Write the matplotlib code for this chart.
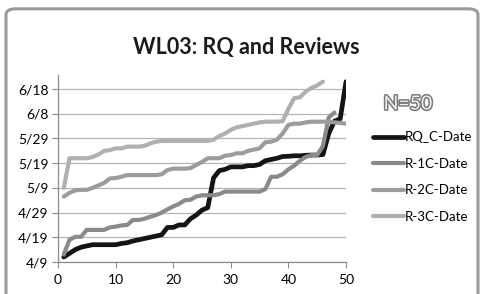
import matplotlib
matplotlib.use("Agg")
import matplotlib.pyplot as plt
import matplotlib.patheffects as pe
from matplotlib.patches import FancyBboxPatch

# days counted from 4/9
y_ticks = [0, 10, 20, 30, 40, 50, 60, 70]
y_labels = ["4/9", "4/19", "4/29", "5/9", "5/19", "5/29", "6/8", "6/18"]
x_ticks = [0, 10, 20, 30, 40, 50]

rq_c = [2, 3.5, 5, 6, 6.5, 7, 7, 7, 7, 7,
        7.5, 7.8, 8.5, 9, 9.5, 10, 10.5, 11, 14, 14,
        15, 15, 17.5, 19, 21, 22, 34, 37, 37.5, 38.5,
        38.5, 38.5, 39, 39, 39.5, 41, 41.5, 42, 42.7, 42.8,
        43, 43, 43.2, 43.3, 43.3, 43.5, 52, 57, 58, 73]
r1_c = [3, 9, 10.2, 10.2, 13, 13, 13, 13, 14, 14.3,
        14.8, 15, 17, 17, 17.5, 18.3, 19, 20, 21.3, 22.5,
        23.5, 25, 25.2, 26.5, 27, 27, 27, 27.5, 28.5, 28.5,
        28.5, 28.5, 28.5, 28.5, 28.5, 29.5, 34.5, 34.5, 35.5, 37.5,
        39, 41, 42.5, 43.3, 43.3, 47, 58.5, 60.5]
r2_c = [26.5, 28, 29, 29.2, 29.2, 30, 31, 32, 33.8, 34,
        34.5, 35.2, 35.2, 35.2, 35.2, 35.2, 35.2, 35.5, 37.2, 37.8,
        37.8, 37.8, 38, 39.3, 40.5, 42, 42, 42, 43, 43.3,
        44, 44, 45, 45.5, 46, 48.5, 48.7, 49.5, 52, 55.5,
        56, 56, 56.5, 56.8, 56.8, 56.8, 56.8, 56.5, 56.3, 56]
r3_c = [30, 42, 42, 42, 42, 42.5, 43.5, 45, 45.3, 46,
        46, 46.7, 46.7, 46.7, 47, 48, 48.7, 49, 49, 49,
        49, 49, 49, 49, 49, 49, 49.5, 51, 52, 53.5,
        54.5, 55, 55.5, 56, 56.5, 56.8, 56.8, 56.8, 57, 62,
        66.3, 66.7, 69, 70.5, 71.5, 73]

series = [
    ("RQ_C-Date", rq_c, "#141414", 3.4),
    ("R-1C-Date", r1_c, "#8a8a8a", 3.0),
    ("R-2C-Date", r2_c, "#9c9c9c", 3.0),
    ("R-3C-Date", r3_c, "#b0b0b0", 3.0),
]

plt.rcParams["font.family"] = ["Lato", "DejaVu Sans"]

fig = plt.figure(figsize=(4.82, 2.94), dpi=100)

# chart frame
frame = FancyBboxPatch((6 / 482, -0.1), 472 / 482, 1.07,
                       boxstyle="round,pad=0,rounding_size=0.02",
                       transform=fig.transFigure, fc="white", ec="#9a9a9a",
                       lw=2.2, zorder=-5)
fig.patches.append(frame)

ax = fig.add_axes([58 / 482, 32 / 294, 288 / 482, 187 / 294])
ax.set_facecolor("none")

for label, vals, color, lw in series:
    ax.plot(range(1, len(vals) + 1), vals, color=color, lw=lw, label=label,
            solid_capstyle="round", solid_joinstyle="round", zorder=3)

ax.set_xlim(0, 50)
ax.set_ylim(0, 75.7)
ax.set_xticks(x_ticks)
ax.set_yticks(y_ticks)
ax.set_yticklabels(y_labels)
ax.grid(axis="y", color="#b4b4b4", lw=0.9, zorder=1)
ax.set_axisbelow(True)
for s in ["top", "right"]:
    ax.spines[s].set_visible(False)
for s in ["left", "bottom"]:
    ax.spines[s].set_color("#8c8c8c")
    ax.spines[s].set_linewidth(0.9)
ax.tick_params(axis="y", direction="out", length=4, color="#8c8c8c",
               labelsize=10, pad=3)
ax.tick_params(axis="x", direction="out", length=4, color="#8c8c8c",
               labelsize=10, pad=5)

fig.text(246 / 482, 1 - 47 / 294, "WL03: RQ and Reviews", ha="center",
         va="center", fontsize=15.5, fontweight="bold", color="#1a1a1a")

fig.text(408 / 482, 1 - 104 / 294, "N=50", ha="center", va="center",
         fontsize=14, color="#eeeeee",
         path_effects=[pe.Stroke(linewidth=2.2, foreground="#7a7a7a"),
                       pe.Normal()])

fig.legend(loc="upper left", bbox_to_anchor=(368 / 482, 1 - 126 / 294),
           frameon=False, fontsize=9.5, handlelength=2.3,
           handletextpad=0.05, labelspacing=1.1, borderaxespad=0)

fig.savefig("out.png", dpi=100)
